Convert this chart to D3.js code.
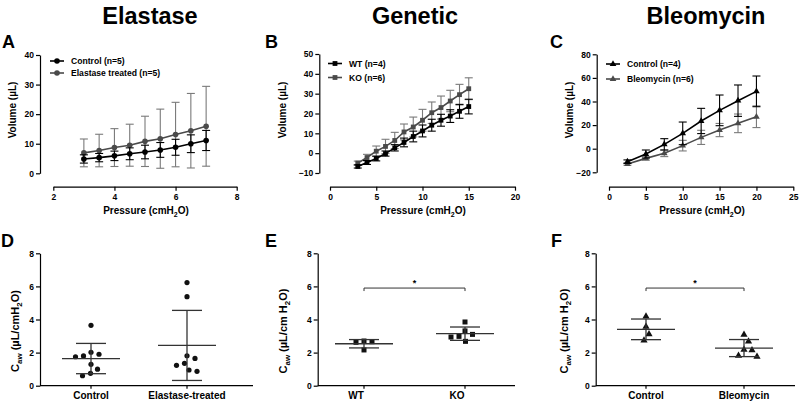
<!DOCTYPE html>
<html><head><meta charset="utf-8">
<script src="https://cdn.jsdelivr.net/npm/d3@7"></script>
<style>
body{margin:0;background:#fff}
svg text{font-family:"Liberation Sans",Arial,Helvetica,sans-serif;font-weight:bold;fill:#000}
</style></head><body>
<svg id="c" width="800" height="403"></svg>
<script>
// ---------------- DATA ----------------
const titles = ["Elastase", "Genetic", "Bleomycin"];
const panelLetters = ["A","B","C","D","E","F"];

// Panel A
const pressureA = [3, 3.5, 4, 4.5, 5, 5.5, 6, 6.5, 7];
const controlA = [4.85, 5.3, 5.9, 6.6, 7.2, 7.9, 8.8, 10.0, 11.1];
const controlA_sd = [1.4, 1.4, 1.6, 2.0, 2.3, 2.5, 2.7, 3.0, 3.4];
const elastaseA = [6.9, 7.7, 8.7, 9.5, 10.8, 11.7, 13.1, 14.4, 15.9];
const elastaseA_sd = [4.7, 5.5, 6.4, 7.1, 8.5, 10.0, 10.9, 12.6, 13.5];
const legendA = ["Control (n=5)", "Elastase treated (n=5)"];
const xTicksA = [2, 4, 6, 8];
const yTicksA = [0, 10, 20, 30, 40];

// Panel B
const pressureB = [3, 4, 5, 6, 7, 8, 9, 10, 11, 12, 13, 14, 15];
const wtB = [-6.7, -4.7, -2.7, -0.2, 2.7, 5.4, 8.4, 11.2, 14.1, 16.6, 18.7, 21.1, 23.5];
const wtB_sd = [0.8, 1.0, 1.2, 1.3, 1.6, 2.2, 2.7, 3.0, 3.0, 3.0, 3.2, 3.5, 3.7];
const koB = [-5.0, -2.2, 1.0, 3.4, 6.4, 10.7, 13.2, 16.6, 20.4, 23.0, 26.3, 29.5, 32.5];
const koB_sd = [1.0, 1.6, 2.6, 3.6, 4.1, 4.0, 5.0, 5.5, 5.4, 5.8, 5.4, 5.2, 5.5];
const legendB = ["WT (n=4)", "KO (n=6)"];
const xTicksB = [0, 5, 10, 15, 20];
const yTicksB = [-10, 0, 10, 20, 30, 40, 50];

// Panel C
const pressureC = [2.5, 5, 7.5, 10, 12.5, 15, 17.5, 20];
const controlC = [-11, -4.5, 3.7, 13, 23.5, 32.5, 40.7, 48.6];
const controlC_sd = [1.5, 3.4, 4.8, 9.6, 10.7, 13, 13.3, 13];
const bleoC = [-13, -8.2, -3.9, 2.6, 9.6, 15.8, 21.5, 27.1];
const bleoC_sd = [1.0, 1.5, 2.8, 4.5, 6.0, 5.6, 7.9, 9.2];
const legendC = ["Control (n=4)", "Bleomycin (n=6)"];
const xTicksC = [0, 5, 10, 15, 20, 25];
const yTicksC = [-20, 0, 20, 40, 60, 80];

// Panel D
const catsD = ["Control", "Elastase-treated"];
const cawD_control = [3.65, 2.02, 1.75, 1.8, 1.9, 1.29, 1.0, 0.6, 0.75];
const cawD_elastase = [6.23, 5.38, 1.81, 1.65, 1.23, 1.35, 0.87, 0.95];
// Panel E
const catsE = ["WT", "KO"];
const cawE_wt = [2.7, 2.62, 2.66, 2.16];
const cawE_ko = [3.85, 3.31, 2.98, 2.94, 3.1, 2.68];
// Panel F
const catsF = ["Control", "Bleomycin"];
const cawF_control = [4.19, 3.57, 3.12, 2.74];
const cawF_bleo = [3.08, 2.68, 2.14, 2.18, 1.75, 1.81];
const yTicksCaw = [0, 2, 4, 6, 8];
const sigLabel = "*";
const sigValue = 5.9;

// ---------------- DRAW ----------------
const svg = d3.select("#c");
const BLACK = "#000", GREY = "#4a4a4a", GREYBAR = "#7a7a7a";

// titles
[[150, titles[0]], [415, titles[1]], [706, titles[2]]].forEach(([x, t]) => {
  svg.append("text").attr("x", x).attr("y", 24).attr("text-anchor", "middle")
    .style("font-size", "23.5px").text(t);
});
// panel letters
[[2, 48], [265, 48], [550, 48], [1, 247], [265, 247], [551, 247]].forEach(([x, y], i) => {
  svg.append("text").attr("x", x).attr("y", y).style("font-size", "18px").text(panelLetters[i]);
});

function styleAxis(g) {
  g.select(".domain").attr("stroke", "#000").attr("stroke-width", 1.2);
  g.selectAll(".tick line").attr("stroke", "#000").attr("stroke-width", 1.2);
  g.selectAll(".tick text").style("font-size", "8.5px").style("font-weight", "bold")
    .attr("fill", "#000").style("font-family", '"Liberation Sans",Arial,sans-serif');
}

function marker(sel, shape, size) {
  if (shape === "circle") return sel.append("circle").attr("r", size);
  if (shape === "square") return sel.append("rect").attr("x", -size).attr("y", -size).attr("width", 2 * size).attr("height", 2 * size);
  return sel.append("path").attr("d", d3.symbol().type(d3.symbolTriangle).size(size * size * 3.6)());
}

function pressureLabel(x, y) {
  const t = svg.append("text").attr("x", x).attr("y", y).attr("text-anchor", "middle").style("font-size", "10px");
  t.append("tspan").text("Pressure (cmH");
  t.append("tspan").text("2").style("font-size", "7px").attr("dy", 2.5);
  t.append("tspan").text("O)").attr("dy", -2.5);
}

function vLabel(x, y, parts, size) {
  const t = svg.append("text").attr("transform", `translate(${x},${y}) rotate(-90)`)
    .attr("text-anchor", "middle").style("font-size", size + "px");
  let cur = 0;
  parts.forEach(p => {
    const sp = t.append("tspan").text(p.t);
    const target = p.sub ? 3 : 0;
    if (target !== cur) { sp.attr("dy", target - cur); cur = target; }
    if (p.sub) sp.style("font-size", (size * 0.72) + "px");
  });
}

const fmt = d3.format("d");

function linePanel(cfg) {
  const x = d3.scaleLinear().domain(cfg.xDomain).range(cfg.xRange);
  const y = d3.scaleLinear().domain(cfg.yDomain).range(cfg.yRange);
  const ga = svg.append("g").attr("transform", `translate(${cfg.yAxisX},0)`)
    .call(d3.axisLeft(y).tickValues(cfg.yTicks).tickFormat(fmt).tickSize(4).tickSizeOuter(0).tickPadding(2));
  styleAxis(ga);
  const gb = svg.append("g").attr("transform", `translate(0,${cfg.xAxisY})`)
    .call(d3.axisBottom(x).tickValues(cfg.xTicks).tickFormat(fmt).tickSize(4).tickSizeOuter(0).tickPadding(3));
  styleAxis(gb);

  cfg.series.slice().reverse().forEach(s => {
    const g = svg.append("g");
    const pts = cfg.xs.map((xv, i) => ({x: xv, m: s.mean[i], sd: s.sd[i]}));
    const eb = g.append("g").attr("stroke", s.barColor).attr("stroke-width", 1.1);
    pts.forEach(p => {
      const cx = x(p.x), y1 = y(p.m + p.sd), y2 = y(p.m - p.sd);
      eb.append("line").attr("x1", cx).attr("x2", cx).attr("y1", y1).attr("y2", y2);
      eb.append("line").attr("x1", cx - 4).attr("x2", cx + 4).attr("y1", y1).attr("y2", y1);
      eb.append("line").attr("x1", cx - 4).attr("x2", cx + 4).attr("y1", y2).attr("y2", y2);
    });
    g.append("path").datum(pts).attr("fill", "none").attr("stroke", s.color).attr("stroke-width", 1.6)
      .attr("d", d3.line().x(p => x(p.x)).y(p => y(p.m)));
    pts.forEach(p => {
      marker(g.append("g").attr("transform", `translate(${x(p.x)},${y(p.m)})`), cfg.shape, cfg.msize).attr("fill", s.color);
    });
  });

  cfg.series.forEach((s, i) => {
    const ly = cfg.legY + i * cfg.legGap;
    svg.append("line").attr("x1", cfg.legX).attr("x2", cfg.legX + 14).attr("y1", ly).attr("y2", ly)
      .attr("stroke", s.color).attr("stroke-width", 1.6);
    marker(svg.append("g").attr("transform", `translate(${cfg.legX + 7},${ly})`), cfg.shape, cfg.msize).attr("fill", s.color);
    svg.append("text").attr("x", cfg.legX + 21).attr("y", ly).attr("dy", "0.35em").style("font-size", "8.6px").text(s.name);
  });

  pressureLabel(cfg.xLabelX, 214);
  vLabel(cfg.yLabelX, 110, [{t: "Volume (µL)"}], 10);
}

linePanel({
  xDomain: [2, 8], xRange: [53.3, 236.7], yDomain: [0, 40], yRange: [173.3, 55],
  yAxisX: 40, xAxisY: 186.7, xTicks: xTicksA, yTicks: yTicksA, xs: pressureA,
  shape: "circle", msize: 2.8,
  series: [
    {name: legendA[0], mean: controlA, sd: controlA_sd, color: BLACK, barColor: BLACK},
    {name: legendA[1], mean: elastaseA, sd: elastaseA_sd, color: GREY, barColor: GREYBAR}
  ],
  legX: 50, legY: 61, legGap: 12, xLabelX: 146, yLabelX: 16
});
linePanel({
  xDomain: [0, 20], xRange: [330, 515], yDomain: [-10, 50], yRange: [173, 54],
  yAxisX: 319.3, xAxisY: 186.7, xTicks: xTicksB, yTicks: yTicksB, xs: pressureB,
  shape: "square", msize: 2.4,
  series: [
    {name: legendB[0], mean: wtB, sd: wtB_sd, color: BLACK, barColor: BLACK},
    {name: legendB[1], mean: koB, sd: koB_sd, color: GREY, barColor: GREYBAR}
  ],
  legX: 328, legY: 63.5, legGap: 14, xLabelX: 423, yLabelX: 286
});
linePanel({
  xDomain: [0, 25], xRange: [609, 793.3], yDomain: [-20, 80], yRange: [172.3, 54.3],
  yAxisX: 596.7, xAxisY: 186.7, xTicks: xTicksC, yTicks: yTicksC, xs: pressureC,
  shape: "triangle", msize: 2.3,
  series: [
    {name: legendC[0], mean: controlC, sd: controlC_sd, color: BLACK, barColor: BLACK},
    {name: legendC[1], mean: bleoC, sd: bleoC_sd, color: GREY, barColor: GREYBAR}
  ],
  legX: 606, legY: 64, legGap: 15, xLabelX: 702, yLabelX: 573
});

// ---- scatter panels ----
function swarm(vals, y, minDist) {
  const pts = vals.map((v, i) => ({v, i, py: y(v)})).sort((a, b) => a.py - b.py);
  const placed = [];
  pts.forEach(p => {
    let best = null;
    for (let k = 0; k < 80 && best === null; k++) {
      const cands = k === 0 ? [0] : [k * 0.5, -k * 0.5];
      for (const dx of cands) {
        if (placed.every(q => Math.hypot(q.dx - dx, q.py - p.py) >= minDist)) { best = dx; break; }
      }
    }
    p.dx = best; placed.push(p);
  });
  return pts;
}

function scatterPanel(cfg) {
  const y = d3.scaleLinear().domain([0, 8]).range([385.7, 253.3]);
  const x = d3.scaleOrdinal().domain(cfg.cats).range(cfg.catX);
  const ga = svg.append("g").attr("transform", `translate(${cfg.yAxisX},0)`)
    .call(d3.axisLeft(y).tickValues(yTicksCaw).tickFormat(fmt).tickSize(4).tickSizeOuter(0).tickPadding(2));
  styleAxis(ga);
  const y0 = y(0);
  svg.append("line").attr("x1", cfg.yAxisX).attr("x2", cfg.xEnd).attr("y1", y0).attr("y2", y0)
    .attr("stroke", "#000").attr("stroke-width", 1.2);
  cfg.cats.forEach((c, i) => {
    svg.append("line").attr("x1", x(c)).attr("x2", x(c)).attr("y1", y0).attr("y2", y0 + 3)
      .attr("stroke", "#000").attr("stroke-width", 1.2);
    svg.append("text").attr("x", x(c) + cfg.labelDx).attr("y", 399).attr("text-anchor", "middle")
      .style("font-size", "10px").text(c);
  });
  cfg.groups.forEach((vals, i) => {
    const cx = x(cfg.cats[i]);
    const m = d3.mean(vals), sd = d3.deviation(vals);
    const g = svg.append("g");
    swarm(vals, y, cfg.minDist).forEach(p => {
      marker(g.append("g").attr("transform", `translate(${cx + p.dx},${p.py})`), cfg.shape, cfg.msize).attr("fill", "#111");
    });
    const lg = svg.append("g").attr("stroke", "#333").attr("stroke-width", 1.3);
    lg.append("line").attr("x1", cx - 29).attr("x2", cx + 29).attr("y1", y(m)).attr("y2", y(m));
    lg.append("line").attr("x1", cx).attr("x2", cx).attr("y1", y(m + sd)).attr("y2", y(m - sd));
    [m + sd, m - sd].forEach(v => lg.append("line").attr("x1", cx - 15).attr("x2", cx + 15).attr("y1", y(v)).attr("y2", y(v)));
  });
  if (cfg.sig) {
    const ys = y(sigValue);
    const x1 = x(cfg.cats[0]), x2 = x(cfg.cats[1]);
    svg.append("path").attr("fill", "none").attr("stroke", "#333").attr("stroke-width", 1)
      .attr("d", `M${x1},${ys + 3}V${ys}H${x2}V${ys + 3}`);
    svg.append("text").attr("x", (x1 + x2) / 2).attr("y", ys - 2).attr("text-anchor", "middle")
      .style("font-size", "9px").text(sigLabel);
  }
  const parts = [{t: "C"}, {t: "aw", sub: true}, {t: cfg.unitPre}, {t: "2", sub: true}, {t: "O)"}];
  vLabel(cfg.yLabelX, 331, parts, 11);
}

scatterPanel({cats: catsD, catX: [91, 187], groups: [cawD_control, cawD_elastase], yAxisX: 40, xEnd: 253,
  shape: "circle", msize: 2.6, minDist: 8, labelDx: 0, sig: false, unitPre: " (µL/cmH", yLabelX: 19});
scatterPanel({cats: catsE, catX: [364, 465], groups: [cawE_wt, cawE_ko], yAxisX: 317.7, xEnd: 515,
  shape: "square", msize: 2.5, minDist: 8, labelDx: -8, sig: true, unitPre: " (µL/cm H", yLabelX: 287});
scatterPanel({cats: catsF, catX: [646, 744], groups: [cawF_control, cawF_bleo], yAxisX: 595.7, xEnd: 795,
  shape: "triangle", msize: 2.5, minDist: 8, labelDx: 0, sig: true, unitPre: " (µL/cm H", yLabelX: 568});
</script>
</body></html>
